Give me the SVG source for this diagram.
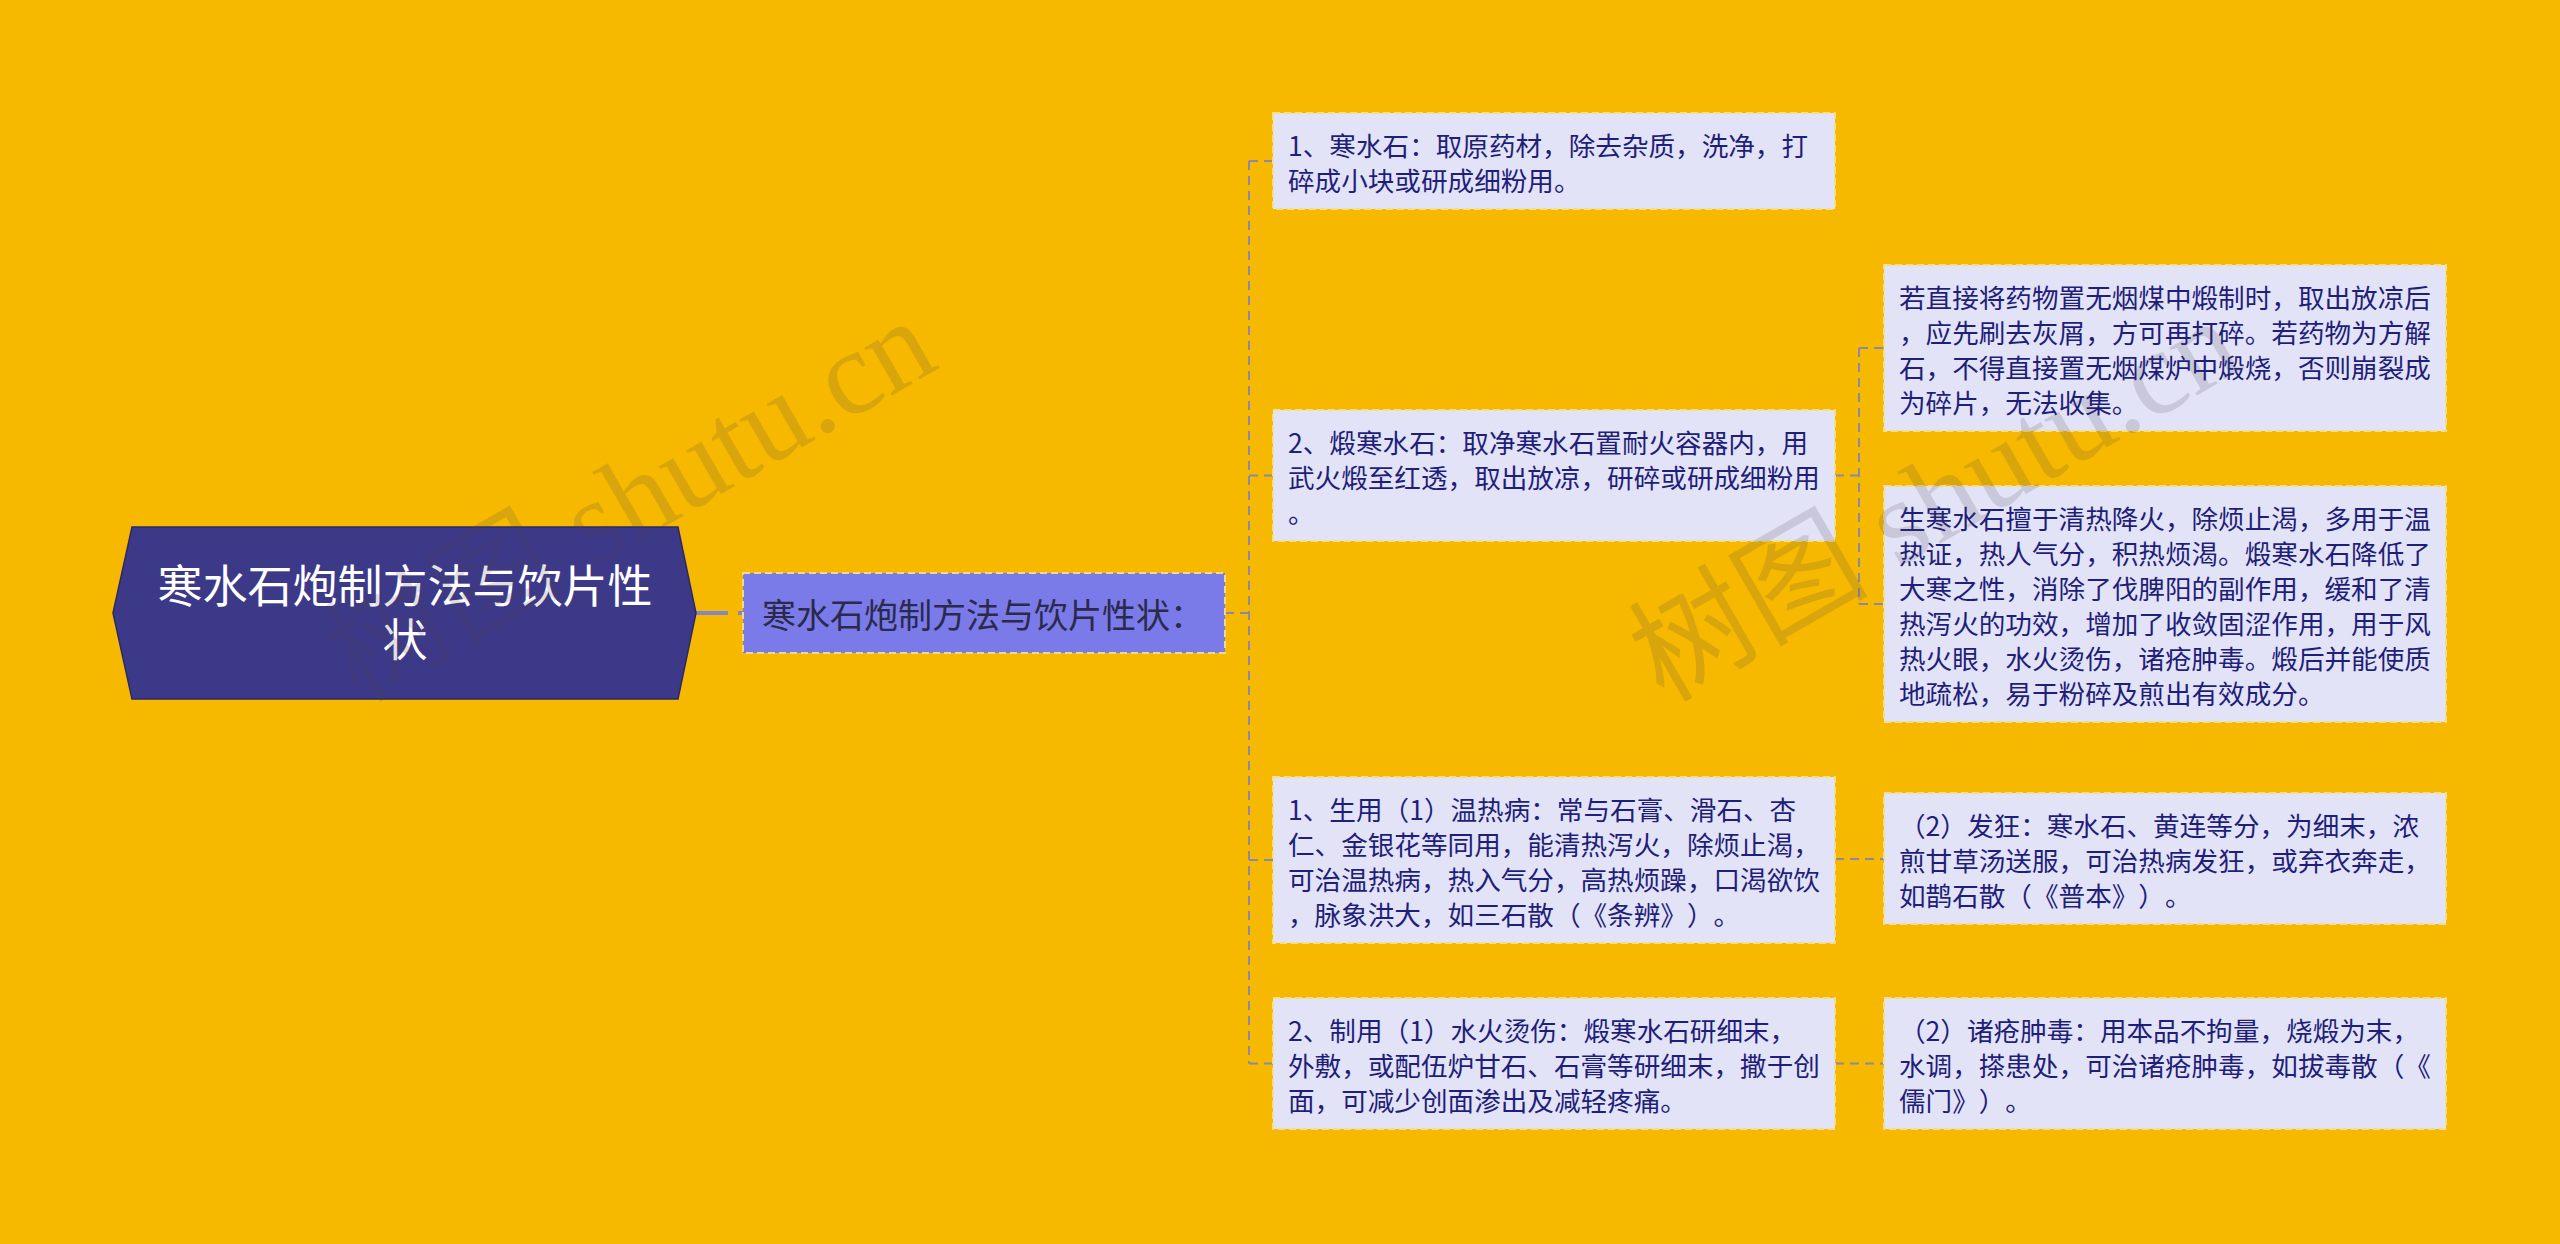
<svg xmlns="http://www.w3.org/2000/svg" width="2560" height="1244" viewBox="0 0 2560 1244">
<style>
text{text-spacing-trim:space-all;font-kerning:none}
.leaf{fill:#e3e3f7;stroke:#f3df8e;stroke-width:2;stroke-dasharray:7 4}
.lt{font-family:"Noto Sans CJK SC","Noto Sans",sans-serif;font-size:26.6px;fill:#1f1f7a;dominant-baseline:central}
.con{fill:none;stroke:#8a8aa6;stroke-width:2;stroke-dasharray:9 6}
.wm{font-family:"Liberation Serif","Noto Sans CJK SC",serif;font-size:120px;fill:#4a4050;opacity:0.16}
</style>
<rect width="2560" height="1244" fill="#f6b900"/>

<g id="connectors">
<path d="M696 613 H743" fill="none" stroke="#8686c6" stroke-width="4" stroke-dasharray="32 10"/>
<path class="con" d="M1225 613 H1249"/>
<path class="con" d="M1249 161 V1063.5"/>
<path class="con" d="M1249 161 H1273"/>
<path class="con" d="M1249 475.5 H1273"/>
<path class="con" d="M1249 860 H1273"/>
<path class="con" d="M1249 1063.5 H1273"/>
<path class="con" d="M1835 475.5 H1859"/>
<path class="con" d="M1859 348 V604"/>
<path class="con" d="M1859 348 H1884"/>
<path class="con" d="M1859 604 H1884"/>
<path class="con" d="M1835 859 H1884"/>
<path class="con" d="M1835 1063.5 H1884"/>
</g>

<g id="root">
<polygon points="113,613 132,527 678,527 696,613 678,699 132,699" fill="#3d3989" stroke="#2c2966" stroke-width="1.5"/>
<text font-family="'Noto Sans CJK SC','Noto Sans',sans-serif" font-size="45" fill="#ffffff" text-anchor="middle" dominant-baseline="central"><tspan x="405" y="583">寒水石炮制方法与饮片性</tspan><tspan x="405" y="637">状</tspan></text>
</g>

<g id="mid">
<rect x="743" y="573" width="482" height="80" fill="#7a7ae8" stroke="#f0d890" stroke-width="2" stroke-dasharray="7 4"/>
<text x="762" y="613" font-family="'Noto Sans CJK SC','Noto Sans',sans-serif" font-size="34" fill="#2a2a4c" dominant-baseline="central">寒水石炮制方法与饮片性状：</text>
</g>

<g id="n1">
<rect class="leaf" x="1273" y="113" width="562" height="96"/>
<text class="lt"><tspan x="1288" y="143.5">1、寒水石：取原药材，除去杂质，洗净，打</tspan><tspan x="1288" y="178.5">碎成小块或研成细粉用。</tspan></text>
</g>

<g id="n2">
<rect class="leaf" x="1273" y="410" width="562" height="131"/>
<text class="lt"><tspan x="1288" y="440.5">2、煅寒水石：取净寒水石置耐火容器内，用</tspan><tspan x="1288" y="475.5">武火煅至红透，取出放凉，研碎或研成细粉用</tspan><tspan x="1288" y="510.5">。</tspan></text>
</g>

<g id="n3">
<rect class="leaf" x="1273" y="777" width="562" height="166"/>
<text class="lt"><tspan x="1288" y="807.5">1、生用（1）温热病：常与石膏、滑石、杏</tspan><tspan x="1288" y="842.5">仁、金银花等同用，能清热泻火，除烦止渴，</tspan><tspan x="1288" y="877.5">可治温热病，热入气分，高热烦躁，口渴欲饮</tspan><tspan x="1288" y="912.5">，脉象洪大，如三石散（《条辨》）。</tspan></text>
</g>

<g id="n4">
<rect class="leaf" x="1273" y="998" width="562" height="131"/>
<text class="lt"><tspan x="1288" y="1028.5">2、制用（1）水火烫伤：煅寒水石研细末，</tspan><tspan x="1288" y="1063.5">外敷，或配伍炉甘石、石膏等研细末，撒于创</tspan><tspan x="1288" y="1098.5">面，可减少创面渗出及减轻疼痛。</tspan></text>
</g>

<g id="r1">
<rect class="leaf" x="1884" y="265" width="562" height="166"/>
<text class="lt"><tspan x="1899" y="295.5">若直接将药物置无烟煤中煅制时，取出放凉后</tspan><tspan x="1899" y="330.5">，应先刷去灰屑，方可再打碎。若药物为方解</tspan><tspan x="1899" y="365.5">石，不得直接置无烟煤炉中煅烧，否则崩裂成</tspan><tspan x="1899" y="400.5">为碎片，无法收集。</tspan></text>
</g>

<g id="r2">
<rect class="leaf" x="1884" y="486" width="562" height="236"/>
<text class="lt"><tspan x="1899" y="516.5">生寒水石擅于清热降火，除烦止渴，多用于温</tspan><tspan x="1899" y="551.5">热证，热人气分，积热烦渴。煅寒水石降低了</tspan><tspan x="1899" y="586.5">大寒之性，消除了伐脾阳的副作用，缓和了清</tspan><tspan x="1899" y="621.5">热泻火的功效，增加了收敛固涩作用，用于风</tspan><tspan x="1899" y="656.5">热火眼，水火烫伤，诸疮肿毒。煅后并能使质</tspan><tspan x="1899" y="691.5">地疏松，易于粉碎及煎出有效成分。</tspan></text>
</g>

<g id="r3">
<rect class="leaf" x="1884" y="793" width="562" height="131"/>
<text class="lt"><tspan x="1899" y="823.5">（2）发狂：寒水石、黄连等分，为细末，浓</tspan><tspan x="1899" y="858.5">煎甘草汤送服，可治热病发狂，或弃衣奔走，</tspan><tspan x="1899" y="893.5">如鹊石散（《普本》）。</tspan></text>
</g>

<g id="r4">
<rect class="leaf" x="1884" y="998" width="562" height="131"/>
<text class="lt"><tspan x="1899" y="1028.5">（2）诸疮肿毒：用本品不拘量，烧煅为末，</tspan><tspan x="1899" y="1063.5">水调，搽患处，可治诸疮肿毒，如拔毒散（《</tspan><tspan x="1899" y="1098.5">儒门》）。</tspan></text>
</g>

<g id="watermarks">
<text class="wm" text-anchor="middle" transform="translate(650,535) rotate(-30)">树图 shutu.cn</text>
<text class="wm" text-anchor="middle" transform="translate(1955,535) rotate(-30)">树图 shutu.cn</text>
</g>
</svg>
